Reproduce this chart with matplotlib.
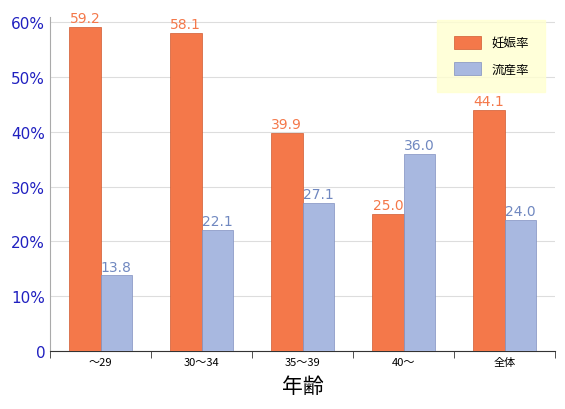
import matplotlib
matplotlib.use("Agg")
import matplotlib.pyplot as plt
import numpy as np

plt.rcParams['font.family'] = ['Noto Sans CJK JP', 'DejaVu Sans']

categories = ["～29", "30～34", "35～39", "40～", "全体"]
pregnancy = [59.2, 58.1, 39.9, 25.0, 44.1]
miscarriage = [13.8, 22.1, 27.1, 36.0, 24.0]
series_names = ["妊娠率", "流産率"]

c1, c2 = "#F4784A", "#A8B8E0"
t1, t2 = "#F4784A", "#7088C0"

fig = plt.figure(figsize=(5.65, 4.1), dpi=100)
ax = fig.add_axes([50/565, 58/410, 505/565, 334/410])
x = np.arange(len(categories))
w = 0.31
b1 = ax.bar(x - w/2, pregnancy, w, color=c1, edgecolor="#d05a30", linewidth=0.5, label=series_names[0], zorder=3)
b2 = ax.bar(x + w/2, miscarriage, w, color=c2, edgecolor="#8090c0", linewidth=0.5, label=series_names[1], zorder=3)
for r, v in zip(b1, pregnancy):
    ax.text(r.get_x()+r.get_width()/2, v+0.3, f"{v:.1f}", ha="center", va="bottom", color=t1, fontsize=10, family="DejaVu Sans")
for r, v in zip(b2, miscarriage):
    ax.text(r.get_x()+r.get_width()/2, v+0.3, f"{v:.1f}", ha="center", va="bottom", color=t2, fontsize=10, family="DejaVu Sans")

ax.set_xlim(-0.5, 4.5)
ax.set_ylim(0, 61)
ax.set_yticks(range(0, 61, 10))
ax.set_yticklabels(["0"] + [f"{v}%" for v in range(10, 61, 10)], color="#2020c0", fontsize=11, family="DejaVu Sans")
ax.yaxis.grid(True, color="#dddddd", linewidth=0.8, zorder=0)
ax.set_xticks(x)
ax.set_xticklabels(categories, fontsize=8)
ax.tick_params(axis='x', length=0, pad=4)
ax.tick_params(axis='y', length=0)
ax.set_xticks(np.arange(-0.5, 5, 1), minor=True)
ax.tick_params(axis='x', which='minor', length=5, direction='out', color="#333333")
for s in ["top", "right"]:
    ax.spines[s].set_visible(False)
ax.spines["left"].set_color("#aaaaaa")
ax.spines["bottom"].set_color("#333333")
ax.set_xlabel("年齢", fontsize=15, labelpad=6)

leg = ax.legend(loc="upper right", bbox_to_anchor=(0.985, 1.0), frameon=True, fontsize=9,
                handlelength=2.2, handleheight=1.2, borderpad=1.0, labelspacing=1.0)
leg.get_frame().set_facecolor("#FFFFD0")
leg.get_frame().set_edgecolor("#FFFFD0")
leg.get_frame().set_boxstyle("square")
fig.savefig("out.png", dpi=100)
